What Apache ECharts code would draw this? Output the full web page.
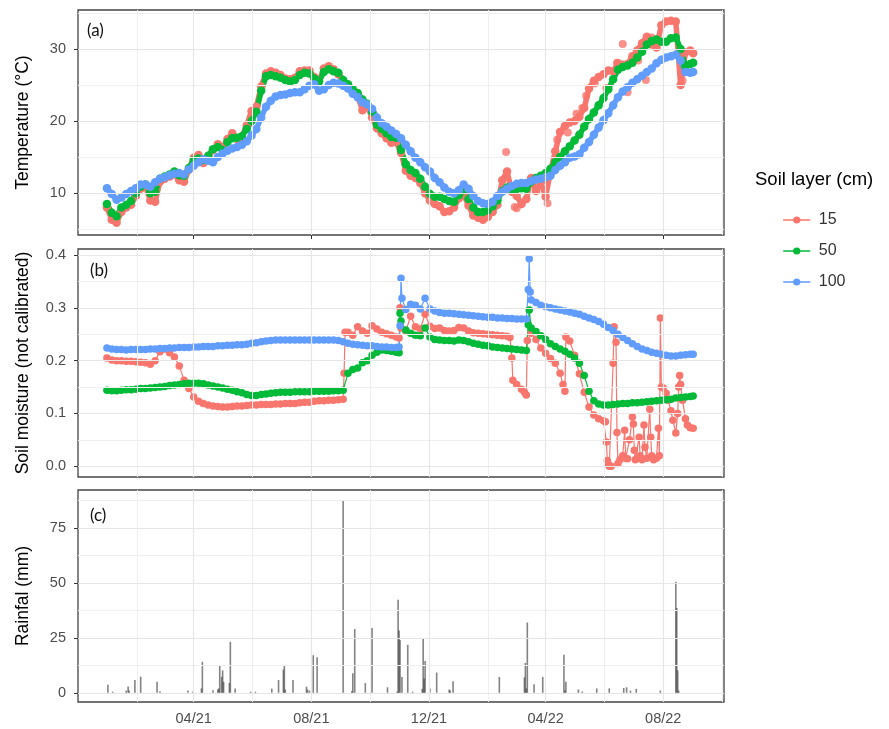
<!DOCTYPE html>
<html><head><meta charset="utf-8">
<script src="https://cdn.jsdelivr.net/npm/echarts@6/dist/echarts.min.js"></script>
<style>html,body{margin:0;padding:0;background:#fff}#c{width:889px;height:729px}</style>
</head><body><div id="c"></div>
<script>
// ---------- DATA ----------
const dates = [
'2021-01-01','2021-01-06','2021-01-11','2021-01-16','2021-01-21','2021-01-26','2021-01-31',
'2021-02-05','2021-02-10','2021-02-15','2021-02-20','2021-02-25',
'2021-03-02','2021-03-07','2021-03-12','2021-03-17','2021-03-22','2021-03-27',
'2021-04-01','2021-04-06','2021-04-11','2021-04-16','2021-04-21','2021-04-26',
'2021-05-01','2021-05-06','2021-05-11','2021-05-16','2021-05-21','2021-05-26','2021-05-31',
'2021-06-05','2021-06-10','2021-06-15','2021-06-20','2021-06-25','2021-06-30',
'2021-07-05','2021-07-10','2021-07-15','2021-07-20','2021-07-25','2021-07-30',
'2021-08-04','2021-08-09','2021-08-14','2021-08-19','2021-08-24','2021-08-29',
'2021-09-03','2021-09-08','2021-09-13','2021-09-18','2021-09-23','2021-09-28',
'2021-10-03','2021-10-08','2021-10-13','2021-10-18','2021-10-23','2021-10-28',
'2021-11-02','2021-11-07','2021-11-12','2021-11-17','2021-11-22','2021-11-27',
'2021-12-02','2021-12-07','2021-12-12','2021-12-17','2021-12-22','2021-12-27',
'2022-01-01','2022-01-06','2022-01-11','2022-01-16','2022-01-21','2022-01-26','2022-01-31',
'2022-02-05','2022-02-10','2022-02-15','2022-02-20','2022-02-25',
'2022-03-02','2022-03-07','2022-03-12','2022-03-17','2022-03-22','2022-03-27',
'2022-04-01','2022-04-06','2022-04-11','2022-04-16','2022-04-21','2022-04-26',
'2022-05-01','2022-05-06','2022-05-11','2022-05-16','2022-05-21','2022-05-26','2022-05-31',
'2022-06-05','2022-06-10','2022-06-15','2022-06-20','2022-06-25','2022-06-30',
'2022-07-05','2022-07-10','2022-07-15','2022-07-20','2022-07-25','2022-07-30',
'2022-08-04','2022-08-09','2022-08-14','2022-08-19','2022-08-24','2022-08-29',
'2022-09-01'];

// Temperature (°C)
const temp15 = [
8.0,6.3,5.9,7.4,8.0,8.4,9.6, 10.6,11.0,9.0,8.8,11.6, 12.0,12.3,12.6,11.8,11.6,13.3,
14.9,15.3,14.2,14.9,16.0,16.8, 16.3,17.5,18.3,17.5,17.8,19.4,21.4, 22.0,24.8,26.6,26.9,26.7,26.4,
25.9,25.8,26.0,26.9,27.0,27.0, 26.1,25.5,27.3,27.6,27.2,26.5, 25.4,24.8,24.3,23.5,21.5,22.1,
20.5,19.0,18.3,17.6,17.0,17.1, 15.6,13.1,12.4,12.1,11.4,10.0, 9.0,8.5,8.2,7.4,7.5,8.0,
9.3,9.8,8.3,6.9,6.6,6.3,6.7, 7.4,8.4,11.8,13.0,10.2, 9.6,8.5,9.2,12.1,10.3,11.5,
9.5,13.0,15.8,18.5,19.3,19.8, 20.0,20.6,21.8,24.5,25.6,26.1,26.5, 27.0,26.9,28.0,27.8,27.9,29.0,
29.8,30.8,31.7,30.6,30.2,33.3, 33.8,33.9,33.8,25.0,29.5,29.8, 29.4];
const temp50 = [
8.5,7.3,6.8,8.0,8.4,8.9,10.0, 10.9,11.2,10.0,10.2,12.0, 12.3,12.6,13.0,12.5,12.4,13.5,
14.6,14.8,14.6,15.2,16.1,16.4, 16.0,17.1,17.6,17.7,17.9,18.9,20.0, 21.3,24.2,26.2,26.4,26.2,26.0,
25.7,25.5,25.7,26.4,26.7,26.6, 25.9,25.5,26.8,27.2,26.9,26.7, 25.7,25.1,24.4,23.9,23.0,22.4,
21.3,19.5,18.9,18.3,17.8,17.7, 16.0,14.0,13.2,12.8,12.0,10.9, 9.9,9.5,9.5,9.2,8.9,8.8,
9.7,10.4,9.2,8.0,7.4,7.4,7.6, 8.2,9.0,10.3,10.8,10.5, 10.6,10.7,10.6,11.6,12.1,12.4,
12.8,13.4,14.3,15.0,15.8,16.5, 17.3,18.1,19.2,20.3,21.2,22.2,23.2, 24.4,25.8,27.1,27.5,27.7,28.1,
28.8,29.6,30.6,31.1,31.3,31.0, 31.0,31.5,31.6,30.0,27.6,27.9, 28.1];
const temp100 = [
10.7,9.9,9.1,9.4,9.9,10.3,10.7, 11.2,11.2,10.9,11.5,12.0, 12.2,12.5,12.7,12.8,12.6,13.3,
13.8,14.3,14.7,14.5,14.3,15.0, 15.5,15.9,16.2,16.4,16.7,17.2,18.0, 18.9,20.5,22.0,22.8,23.4,23.6,
23.7,23.9,24.0,24.0,24.4,24.9, 25.1,24.2,24.4,25.0,25.3,25.2, 24.9,24.5,23.8,23.3,22.6,22.3,
21.7,20.5,19.7,19.2,18.7,18.2, 17.6,16.7,15.8,14.9,14.3,13.6, 13.0,12.1,11.5,10.8,10.2,10.0,
10.4,11.2,10.6,9.6,8.9,8.6,8.5, 8.8,9.6,10.2,10.6,11.0, 11.3,11.4,11.4,11.7,11.9,12.0,
12.2,12.4,13.2,13.8,14.3,14.9, 15.1,15.4,16.3,17.1,18.1,19.1,20.1, 21.1,22.2,23.3,24.1,24.7,25.3,
25.8,26.3,26.8,27.3,28.0,28.5, 28.8,29.0,29.2,28.4,26.8,26.7, 26.8];
// scattered 15 cm readings
const temp15Scatter = [
['2022-02-19',15.7],['2022-02-28',8.1],['2022-03-02',7.9],['2022-03-05',11.2],['2022-03-23',12.0],
['2022-04-03',8.6],['2022-04-13',17.4],['2022-04-24',18.4],['2022-05-03',21.0],['2022-05-09',21.8],
['2022-05-13',23.5],['2022-05-22',25.2],['2022-06-03',24.6],['2022-06-14',28.1],['2022-06-20',30.7],
['2022-06-25',24.0],['2022-07-06',28.4],['2022-07-14',25.7],['2022-07-20',31.6],['2022-08-19',29.2],
['2022-08-21',25.6]];

// Soil moisture (not calibrated)
const moist15 = [
0.205,0.201,0.200,0.200,0.199,0.199,0.198, 0.197,0.196,0.193,0.200,0.217, 0.222,0.215,0.207,0.190,0.163,0.147,
0.131,0.123,0.119,0.116,0.114,0.113, 0.112,0.112,0.113,0.114,0.114,0.115,0.116, 0.116,0.117,0.117,0.117,0.118,0.118,
0.119,0.119,0.119,0.120,0.121,0.121, 0.123,0.124,0.124,0.125,0.125,0.126, 0.127,0.254,0.248,0.264,0.256,0.252,
0.266,0.260,0.254,0.251,0.248,0.245, 0.262,0.256,0.284,0.264,0.260,0.288, 0.265,0.261,0.262,0.257,0.256,0.257,
0.263,0.262,0.256,0.253,0.252,0.251,0.250, 0.249,0.248,0.247,0.246,0.205, 0.155,0.146,0.135,0.252,0.240,0.224,
0.214,0.204,0.195,0.176,0.142,0.237, 0.210,0.175,0.140,0.112,0.097,0.090,0.086, 0.004,0.195,0.005,0.020,0.014,0.093,
0.015,0.012,0.015,0.020,0.015,0.150, 0.138,0.105,0.063,0.155,0.090,0.073, 0.072];
const moist15Extra = [
['2021-09-04',0.176],['2021-09-05',0.254],['2021-10-31',0.243],['2021-11-01',0.300],
['2022-02-23',0.244],['2022-02-26',0.163],['2022-03-10',0.140],['2022-03-13',0.238],
['2022-04-19',0.155],['2022-04-22',0.245],
['2022-06-02',0.084],['2022-06-03',0.046],['2022-06-04',0.011],['2022-06-06',0.000],['2022-06-08',0.000],
['2022-06-11',0.264],['2022-06-13',0.235],['2022-06-14',0.064],['2022-06-17',0.012],
['2022-06-22',0.068],['2022-06-23',0.015],['2022-06-27',0.050],['2022-07-01',0.080],['2022-07-02',0.030],['2022-07-03',0.012],
['2022-07-07',0.055],['2022-07-08',0.020],['2022-07-12',0.078],['2022-07-13',0.036],['2022-07-18',0.108],['2022-07-19',0.055],
['2022-07-22',0.012],['2022-07-27',0.072],['2022-07-28',0.020],['2022-07-29',0.281],
['2022-08-01',0.148],['2022-08-06',0.125],['2022-08-11',0.087],['2022-08-16',0.100],['2022-08-17',0.150],
['2022-08-18',0.172],['2022-08-21',0.125],['2022-08-26',0.078]];
const moist50 = [
0.144,0.143,0.143,0.144,0.145,0.145,0.146, 0.147,0.147,0.148,0.149,0.150, 0.151,0.153,0.154,0.155,0.156,0.157,
0.157,0.157,0.156,0.154,0.152,0.150, 0.148,0.146,0.144,0.141,0.139,0.136,0.134, 0.134,0.136,0.137,0.138,0.139,0.140,
0.140,0.140,0.141,0.141,0.141,0.141, 0.142,0.142,0.142,0.142,0.143,0.143, 0.144,0.176,0.183,0.186,0.196,0.200,
0.210,0.216,0.220,0.219,0.218,0.216, 0.275,0.258,0.252,0.248,0.247,0.262, 0.245,0.240,0.239,0.238,0.238,0.237,
0.239,0.238,0.236,0.233,0.231,0.229,0.228, 0.226,0.225,0.224,0.223,0.222, 0.221,0.220,0.219,0.262,0.255,0.247,
0.240,0.232,0.227,0.222,0.218,0.212, 0.205,0.195,0.172,0.142,0.124,0.118,0.116, 0.116,0.117,0.118,0.119,0.119,0.120,
0.120,0.121,0.122,0.123,0.124,0.125, 0.126,0.127,0.129,0.130,0.131,0.132, 0.133];
const moist50Extra = [['2021-10-31',0.215],['2021-11-01',0.290],['2022-03-14',0.268],['2022-03-15',0.296]];
const moist100 = [
0.224,0.222,0.221,0.221,0.220,0.221,0.221, 0.221,0.221,0.222,0.222,0.223, 0.223,0.224,0.224,0.225,0.225,0.225,
0.226,0.226,0.227,0.227,0.227,0.228, 0.228,0.229,0.229,0.230,0.230,0.231,0.233, 0.234,0.236,0.237,0.238,0.239,0.239,
0.239,0.239,0.239,0.239,0.239,0.239, 0.239,0.239,0.239,0.239,0.239,0.238, 0.236,0.233,0.231,0.230,0.229,0.228,
0.228,0.227,0.226,0.226,0.225,0.225, 0.356,0.297,0.307,0.305,0.298,0.318, 0.298,0.294,0.291,0.290,0.290,0.289,
0.288,0.287,0.286,0.285,0.284,0.283,0.282, 0.282,0.281,0.281,0.280,0.280, 0.279,0.279,0.279,0.315,0.310,0.305,
0.302,0.300,0.298,0.296,0.294,0.292, 0.290,0.288,0.284,0.281,0.278,0.274,0.269, 0.263,0.257,0.250,0.244,0.238,0.232,
0.227,0.222,0.219,0.216,0.214,0.212, 0.210,0.209,0.209,0.210,0.211,0.212, 0.212];
const moist100Extra = [['2021-10-31',0.226],['2021-11-01',0.266],['2021-11-03',0.318],
['2022-03-14',0.335],['2022-03-15',0.393],['2022-03-16',0.330]];

// Rainfall (mm)
const rainDates = ['2021-01-02','2021-01-07','2021-01-21','2021-01-23','2021-01-24','2021-01-30','2021-02-05','2021-02-22','2021-02-25','2021-03-26','2021-03-31','2021-04-09','2021-04-10','2021-04-21','2021-04-26','2021-04-27','2021-04-28','2021-04-30','2021-05-01','2021-05-02','2021-05-08','2021-05-09','2021-05-14','2021-05-30','2021-06-04','2021-06-21','2021-06-28','2021-07-03','2021-07-04','2021-07-05','2021-07-13','2021-07-27','2021-07-28','2021-07-30','2021-08-03','2021-08-07','2021-09-03','2021-09-12','2021-09-13','2021-09-15','2021-09-26','2021-10-03','2021-10-19','2021-10-29','2021-10-30','2021-10-31','2021-11-01','2021-11-03','2021-11-09','2021-11-14','2021-11-24','2021-11-25','2021-11-26','2021-11-27','2021-12-02','2021-12-09','2021-12-22','2021-12-23','2021-12-26','2022-02-12','2022-03-10','2022-03-11','2022-03-12','2022-03-13','2022-03-20','2022-03-29','2022-04-20','2022-04-21','2022-04-22','2022-05-05','2022-05-09','2022-05-24','2022-06-06','2022-06-21','2022-06-24','2022-06-28','2022-07-04','2022-07-29','2022-08-14','2022-08-15','2022-08-16','2022-08-17'];
const rainValues = [3.6,0.5,1,2.8,1,5.8,7.3,5,0.7,1,0.5,2,14.1,1.2,1.5,2,12.3,7.3,10.2,5,4.5,23.2,2,0.5,0.5,1.8,5.8,10.6,12.3,1.5,5.8,2.8,1.5,1,17.1,16.2,87.7,0.8,8.9,29,4.4,29.5,2.5,0.6,42.3,28.3,24,7.2,21.8,0.5,1.8,24.5,6.5,14.5,2,9.2,1.5,1,5.2,7.2,7,13.6,2,32,3.9,7.2,17.3,1,5,1.5,0.6,2,2,2.2,2.5,1,1.8,1,50.5,38.6,10.2,1];

// Axis ticks
const xLabelDates = ['2021-04-01','2021-08-01','2021-12-01','2022-04-01','2022-08-01'];
const xMinorDates = ['2021-02-01','2021-06-01','2021-10-01','2022-02-01','2022-06-01','2022-10-01'];
const tempTicks = [10,20,30], tempMinor = [5,15,25,35];
const moistTicks = [0,0.1,0.2,0.3,0.4], moistMinor = [0.05,0.15,0.25,0.35];
const rainTicks = [0,25,50,75], rainMinor = [12.5,37.5,62.5,87.5];
const layers = ['15','50','100'];
const colors = ['#F8766D','#00BA38','#619CFF'];

// ---------- BUILD ----------
const T = s => new Date(s + 'T00:00:00').getTime();
const pairs = (ds, vs) => ds.map((d, i) => [T(d), vs[i]]);
const merge = (base, extra) => base.concat(extra.map(e => [T(e[0]), e[1]])).sort((a, b) => a[0] - b[0]);
const xMin = T('2020-12-02'), xMax = T('2022-10-03');
const FONT = '"Liberation Sans", Arial, sans-serif';
const grids = [
  {left: 78, top: 10, width: 646, height: 225},
  {left: 78, top: 249, width: 646, height: 228},
  {left: 78, top: 490, width: 646, height: 212}
].map(g => Object.assign(g, {show: true, borderColor: '#444', borderWidth: 1.3, backgroundColor: '#fff'}));

const fmtX = v => { const d = new Date(v); return String(d.getMonth() + 1).padStart(2, '0') + '/' + String(d.getFullYear()).slice(2); };
const xAxes = [0, 1, 2].map(i => ({
  type: 'value', gridIndex: i, min: xMin, max: xMax, scale: true,
  axisLine: {show: false}, splitLine: {show: false},
  axisTick: {show: true, length: 4, lineStyle: {color: '#333'}, customValues: xLabelDates.map(T)},
  axisLabel: {show: i === 2, customValues: xLabelDates.map(T), formatter: fmtX, color: '#4d4d4d',
    fontFamily: FONT, fontSize: 14.5, margin: 9, hideOverlap: false}
}));
function yAx(i, min, max, ticks, name, fmt) {
  return {
    type: 'value', gridIndex: i, min, max, name, nameLocation: 'middle', nameGap: 46, nameRotate: 90,
    nameTextStyle: {color: '#000', fontFamily: FONT, fontSize: 17.5},
    axisLine: {show: false}, splitLine: {show: false},
    axisTick: {show: true, length: 4, lineStyle: {color: '#333'}, customValues: ticks},
    axisLabel: {customValues: ticks, formatter: fmt, color: '#4d4d4d', fontFamily: FONT, fontSize: 14.5, margin: 12}
  };
}
const yAxes = [
  yAx(0, 4.2, 35.4, tempTicks, 'Temperature (°C)', v => String(v)),
  yAx(1, -0.0205, 0.4115, moistTicks, 'Soil moisture (not calibrated)', v => v.toFixed(1)),
  yAx(2, -4.2, 92.3, rainTicks, 'Rainfal (mm)', v => String(v))
];

function gridLines(i, yMajor, yMinor) {
  const d = [];
  xMinorDates.forEach(s => d.push({xAxis: T(s), lineStyle: {color: '#efefef', width: 1}}));
  yMinor.forEach(v => d.push({yAxis: v, lineStyle: {color: '#efefef', width: 1}}));
  xLabelDates.forEach(s => d.push({xAxis: T(s), lineStyle: {color: '#e6e6e6', width: 1.2}}));
  yMajor.forEach(v => d.push({yAxis: v, lineStyle: {color: '#e6e6e6', width: 1.2}}));
  return {type: 'line', name: 'grid' + i, xAxisIndex: i, yAxisIndex: i, data: [], z: 1, silent: true,
    markLine: {silent: true, symbol: ['none', 'none'], label: {show: false}, animation: false,
      lineStyle: {type: 'solid'}, data: d}};
}

const series = [gridLines(0, tempTicks, tempMinor), gridLines(1, moistTicks, moistMinor), gridLines(2, rainTicks, rainMinor)];
const tempSets = [temp15, temp50, temp100];
const moistSets = [merge(pairs(dates, moist15), moist15Extra), merge(pairs(dates, moist50), moist50Extra), merge(pairs(dates, moist100), moist100Extra)];
layers.forEach((name, k) => {
  series.push({type: 'line', name, xAxisIndex: 0, yAxisIndex: 0, data: pairs(dates, tempSets[k]),
    symbol: 'circle', symbolSize: 8.5, showSymbol: true, showAllSymbol: true,
    lineStyle: {width: 5.5, color: colors[k], cap: 'round', join: 'round'}, itemStyle: {color: colors[k]}, z: 2});
  if (k === 0) series.push({type: 'scatter', name: '15 pts', xAxisIndex: 0, yAxisIndex: 0,
    data: temp15Scatter.map(e => [T(e[0]), e[1]]), symbolSize: 8, itemStyle: {color: colors[0]}, z: 2});
});
layers.forEach((name, k) => {
  series.push({type: 'line', name, xAxisIndex: 1, yAxisIndex: 1, data: moistSets[k],
    symbol: 'circle', symbolSize: 7.5, showSymbol: true, showAllSymbol: true,
    lineStyle: {width: 1.2, color: colors[k]}, itemStyle: {color: colors[k]}, z: 2});
});
series.push({type: 'bar', name: 'rain', xAxisIndex: 2, yAxisIndex: 2, data: pairs(rainDates, rainValues),
  barWidth: 1.6, itemStyle: {color: 'rgba(55,55,55,0.62)'}, z: 2});

const chart = echarts.init(document.getElementById('c'), null, {renderer: 'canvas'});
chart.setOption({
  animation: false,
  backgroundColor: '#fff',
  grid: grids, xAxis: xAxes, yAxis: yAxes, series,
  legend: {data: layers, orient: 'vertical', left: 778, top: 207, itemWidth: 26, itemHeight: 9, itemGap: 15,
    lineStyle: {width: 1.5}, selectedMode: false,
    textStyle: {fontFamily: FONT, fontSize: 16, color: '#333', lineHeight: 16, padding: [0, 0, 0, 4]}},
  graphic: [
    {type: 'text', left: 755, top: 170, style: {text: 'Soil layer (cm)', font: '18.5px "Liberation Sans", Arial, sans-serif', fill: '#000'}},
    {type: 'text', left: 87, top: 22, style: {text: '(a)', font: '17px Lato, sans-serif', fill: '#111'}},
    {type: 'text', left: 90, top: 262, style: {text: '(b)', font: '17px Lato, sans-serif', fill: '#111'}},
    {type: 'text', left: 90, top: 507, style: {text: '(c)', font: '17px Lato, sans-serif', fill: '#111'}}
  ]
});
</script></body></html>
